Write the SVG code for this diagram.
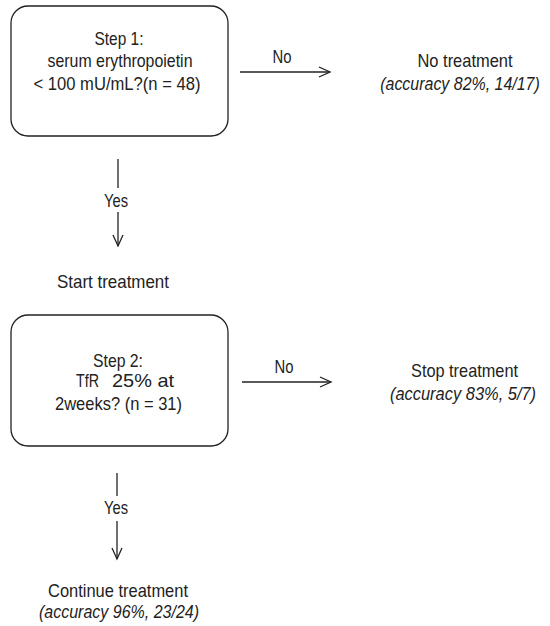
<svg xmlns="http://www.w3.org/2000/svg" width="550" height="626" viewBox="0 0 550 626">
<style>
text{font-family:"Liberation Sans",Arial,sans-serif;font-size:18.5px;fill:#222;text-anchor:middle}
.it{font-style:italic}
.box{fill:#fff;stroke:#222;stroke-width:1.3}
.ln{stroke:#222;stroke-width:1.3;fill:none}
</style>
<defs>
<marker id="ah" markerWidth="14" markerHeight="12" refX="12" refY="6" orient="auto" markerUnits="userSpaceOnUse">
<path d="M1,1 L12,6 L1,11" fill="none" stroke="#222" stroke-width="1.3"/>
</marker>
</defs>
<rect width="550" height="626" fill="#fff"/>
<g id="step1">
<rect class="box" x="11" y="6" width="217" height="130" rx="17"/>
<text x="119" y="45" textLength="49" lengthAdjust="spacingAndGlyphs">Step 1:</text>
<text x="120" y="67" textLength="145" lengthAdjust="spacingAndGlyphs">serum erythropoietin</text>
<text x="117" y="90" textLength="167" lengthAdjust="spacingAndGlyphs">&lt; 100 mU/mL?(n = 48)</text>
</g>
<g id="notreat">
<text x="465" y="67" textLength="95" lengthAdjust="spacingAndGlyphs">No treatment</text>
<g transform="translate(460,90) scale(0.84,1)">
<text class="it" x="0" y="0" textLength="190" lengthAdjust="spacingAndGlyphs">(accuracy 82%, 14/17)</text>
</g>
</g>
<g id="start">
<text x="113" y="288" textLength="112" lengthAdjust="spacingAndGlyphs">Start treatment</text>
</g>
<g id="step2">
<rect class="box" x="11" y="315" width="217" height="131" rx="17"/>
<text x="118" y="367" textLength="50" lengthAdjust="spacingAndGlyphs">Step 2:</text>
<text x="87.5" y="387" textLength="23" lengthAdjust="spacingAndGlyphs">TfR</text>
<text x="143" y="387" textLength="62" lengthAdjust="spacingAndGlyphs">25% at</text>
<text x="118.5" y="410" textLength="127" lengthAdjust="spacingAndGlyphs">2weeks? (n = 31)</text>
</g>
<g id="stop">
<text x="464.5" y="377" textLength="107" lengthAdjust="spacingAndGlyphs">Stop treatment</text>
<g transform="translate(463,400) scale(0.84,1)">
<text class="it" x="0" y="0" textLength="174" lengthAdjust="spacingAndGlyphs">(accuracy 83%, 5/7)</text>
</g>
</g>
<g id="continue">
<text x="118" y="597" textLength="140" lengthAdjust="spacingAndGlyphs">Continue treatment</text>
<text class="it" x="119" y="618" textLength="160" lengthAdjust="spacingAndGlyphs">(accuracy 96%, 23/24)</text>
</g>
<g id="connectors">
<line class="ln" x1="240" y1="72" x2="330" y2="72" marker-end="url(#ah)"/>
<text x="282" y="63" textLength="19" lengthAdjust="spacingAndGlyphs">No</text>
<line class="ln" x1="242" y1="382" x2="331" y2="382" marker-end="url(#ah)"/>
<text x="284" y="373" textLength="19" lengthAdjust="spacingAndGlyphs">No</text>
<line class="ln" x1="118" y1="159" x2="118" y2="188"/>
<text x="116" y="207" textLength="24" lengthAdjust="spacingAndGlyphs">Yes</text>
<line class="ln" x1="118" y1="212" x2="118" y2="246" marker-end="url(#ah)"/>
<line class="ln" x1="117" y1="473" x2="117" y2="496"/>
<text x="116" y="514" textLength="24" lengthAdjust="spacingAndGlyphs">Yes</text>
<line class="ln" x1="117" y1="521" x2="117" y2="559" marker-end="url(#ah)"/>
</g>
</svg>
